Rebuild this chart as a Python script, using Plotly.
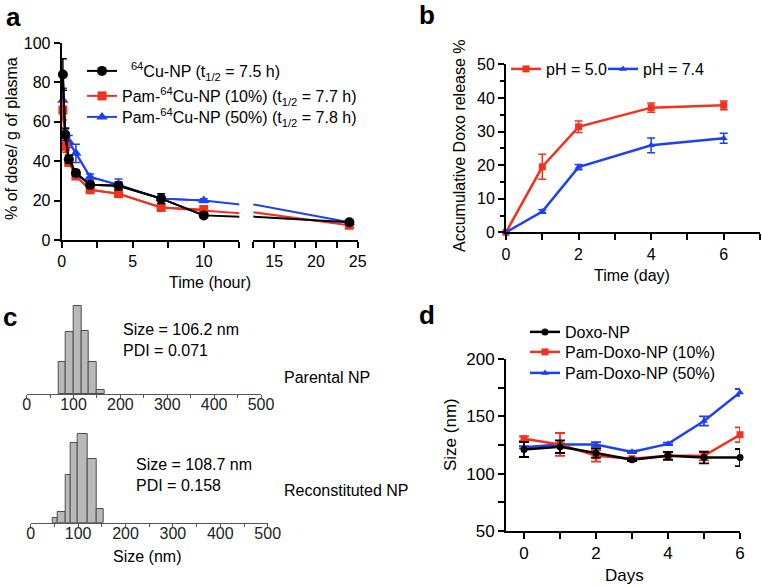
import plotly.graph_objects as go

W, H = 762, 586
def px(x): return x / W
def py(y): return 1 - y / H

RED = "#f2311f"
BLUE = "#1e40f0"
BLACK = "#000000"
FONT = "Liberation Sans, Arial, sans-serif"

# ---------------- Panel a: plasma clearance ----------------
t_a = [0.083, 0.25, 0.5, 1, 2, 4, 7, 10, 24]
cu_np = [84, 53.5, 41, 34, 28, 27.5, 21, 12.5, 9]
cu_np_err = [8, 3, 2, 1.5, 1.5, 2, 2.5, 1, 1]
pam10_cu = [66, 47.5, 39.5, 32.5, 25.5, 23.5, 16.5, 15.5, 7.5]
pam10_cu_err = [5, 3, 2, 1.5, 1.5, 1.5, 1, 1, 1]
pam50_cu = [71, 53, 50, 44, 32, 28, 21, 20, 9]
pam50_cu_err = [6, 4, 3, 4.6, 1.5, 3, 1, 1, 1]
names_a = ["&nbsp;&nbsp;<sup>64</sup>Cu-NP (t<sub>1/2</sub> = 7.5 h)",
           "Pam-<sup>64</sup>Cu-NP (10%) (t<sub>1/2</sub> = 7.7 h)",
           "Pam-<sup>64</sup>Cu-NP (50%) (t<sub>1/2</sub> = 7.8 h)"]

# ---------------- Panel b: doxo release ----------------
t_b = [0, 1, 2, 4, 6]
ph50 = [0, 19.5, 31.4, 37.1, 37.8]
ph50_err = [0, 3.7, 1.7, 1.4, 1.3]
ph74 = [0, 6.2, 19.4, 25.9, 28.0]
ph74_err = [0, 0.5, 0.8, 2.2, 1.5]
names_b = ["pH = 5.0", "pH = 7.4"]

# ---------------- Panel c: size distributions ----------------
parental_edges = [68, 84, 101, 117, 133, 150, 167]
parental_int = [10.9, 21.0, 29.8, 21.3, 10.9, 1.3]
recon_edges = [46, 58, 74, 84, 100, 120, 139, 155]
recon_int = [1.7, 3.5, 16.1, 26.8, 29.9, 21.5, 4.8]

# ---------------- Panel d: size stability ----------------
days = [0, 1, 2, 3, 4, 5, 6]
doxo_np = [121, 123.5, 118, 112, 115.5, 114, 114]
doxo_np_err = [6.5, 5.5, 4, 1, 3.5, 5, 7.5]
pam10_doxo = [130.5, 125.5, 115.5, 113, 115.5, 115.5, 134]
pam10_doxo_err = [2, 10, 5, 1, 3, 4, 6.5]
pam50_doxo = [123, 125.5, 125.5, 119, 126, 146, 171]
pam50_doxo_err = [1, 1, 2, 1, 1, 4, 3]
names_d = ["Doxo-NP", "Pam-Doxo-NP (10%)", "Pam-Doxo-NP (50%)"]

fig = go.Figure()

# ----- panel a traces (draw blue, red, black so black on top)
series_a = [
    (pam50_cu, pam50_cu_err, BLUE, "triangle-up", 10, names_a[2], "legend3"),
    (pam10_cu, pam10_cu_err, RED, "square", 9, names_a[1], "legend2"),
    (cu_np, cu_np_err, BLACK, "circle", 10, names_a[0], "legend"),
]
for ys, es, col, sym, ms, nm, lg in series_a:
    left_x = [t for t in t_a if t <= 12.5]
    left_y = [y for t, y in zip(t_a, ys) if t <= 12.5]
    left_e = [e for t, e in zip(t_a, es) if t <= 12.5]
    right_x = [t for t in t_a if t > 12.5]
    right_y = [y for t, y in zip(t_a, ys) if t > 12.5]
    right_e = [e for t, e in zip(t_a, es) if t > 12.5]
    fig.add_trace(go.Scatter(x=t_a, y=ys, mode="lines", line=dict(color=col, width=2),
                             xaxis="x", yaxis="y", showlegend=False, hoverinfo="skip"))
    fig.add_trace(go.Scatter(x=t_a, y=ys, mode="lines", line=dict(color=col, width=2),
                             xaxis="x2", yaxis="y", showlegend=False, hoverinfo="skip"))
    fig.add_trace(go.Scatter(x=left_x, y=left_y, mode="lines+markers", name=nm,
                             line=dict(color=col, width=2),
                             marker=dict(symbol=sym, size=ms, color=col),
                             error_y=dict(type="data", array=left_e, color=col, thickness=1.5, width=4),
                             cliponaxis=False, xaxis="x", yaxis="y", legend=lg))
    fig.add_trace(go.Scatter(x=right_x, y=right_y, mode="markers",
                             marker=dict(symbol=sym, size=ms, color=col),
                             error_y=dict(type="data", array=right_e, color=col, thickness=1.5, width=4),
                             cliponaxis=False, xaxis="x2", yaxis="y", showlegend=False))

# ----- panel b traces
for ys, es, col, sym, nm, lg in [(ph50, ph50_err, RED, "square", names_b[0], "legend4"),
                                 (ph74, ph74_err, BLUE, "triangle-up", names_b[1], "legend5")]:
    fig.add_trace(go.Scatter(x=t_b, y=ys, mode="lines+markers", name=nm,
                             line=dict(color=col, width=2.5),
                             marker=dict(symbol=sym, size=7, color=col),
                             error_y=dict(type="data", array=es, color=col, thickness=1.5, width=4),
                             cliponaxis=False, xaxis="x3", yaxis="y3", legend=lg))

# ----- panel c traces
def centers(edges):
    return [(a + b) / 2 for a, b in zip(edges[:-1], edges[1:])]
def widths(edges):
    return [b - a for a, b in zip(edges[:-1], edges[1:])]

fig.add_trace(go.Bar(x=centers(parental_edges), y=parental_int, width=widths(parental_edges),
                     marker=dict(color="#b9b9b9", line=dict(color="#4d4d4d", width=1)),
                     xaxis="x4", yaxis="y4", showlegend=False))
fig.add_trace(go.Bar(x=centers(recon_edges), y=recon_int, width=widths(recon_edges),
                     marker=dict(color="#b9b9b9", line=dict(color="#4d4d4d", width=1)),
                     xaxis="x5", yaxis="y5", showlegend=False))

# ----- panel d traces (blue, red, black)
for ys, es, col, sym, nm, lg in [(pam50_doxo, pam50_doxo_err, BLUE, "triangle-up", names_d[2], "legend8"),
                                 (pam10_doxo, pam10_doxo_err, RED, "square", names_d[1], "legend7"),
                                 (doxo_np, doxo_np_err, BLACK, "circle", names_d[0], "legend6")]:
    fig.add_trace(go.Scatter(x=days, y=ys, mode="lines+markers", name=nm,
                             line=dict(color=col, width=2.5),
                             marker=dict(symbol=sym, size=7, color=col),
                             error_y=dict(type="data", array=es, color=col, thickness=1.8, width=5),
                             cliponaxis=False, xaxis="x6", yaxis="y6", legend=lg))

tickfont = dict(family=FONT, size=16, color="black")
ax_common = dict(showline=True, linecolor="black", linewidth=2, ticks="outside", tickwidth=2,
                 ticklen=6, tickcolor="black", showgrid=False, zeroline=False, tickfont=tickfont)
ax_d = dict(ax_common, tickfont=dict(family=FONT, size=17, color="black"))
c_axis = dict(showline=True, linecolor="#555555", linewidth=1, ticks="outside", ticklen=3,
              tickcolor="#555555", showgrid=False, zeroline=False, ticklabelstandoff=-7,
              minor=dict(dtick=50, ticks="outside", ticklen=3, tickcolor="#555555"),
              tickfont=dict(family=FONT, size=16, color="#222222"))

layout = dict(
    width=W, height=H, margin=dict(l=0, r=0, t=0, b=0, autoexpand=False),
    paper_bgcolor="white", plot_bgcolor="white",
    font=dict(family=FONT, size=16, color="black"),
    bargap=0,
    xaxis=dict(domain=[px(61.7), px(239.3)], range=[0, 12.5], anchor="y", tick0=0, dtick=5,
               minor=dict(dtick=2.5, ticks="outside", ticklen=6, tickwidth=2, tickcolor="black"), **ax_common),
    xaxis2=dict(domain=[px(253.3), px(357.7)], range=[12.5, 25], anchor="y", tick0=0, dtick=5,
                minor=dict(dtick=2.5, ticks="outside", ticklen=6, tickwidth=2, tickcolor="black"), **ax_common),
    yaxis=dict(domain=[py(240), py(43)], range=[0, 100], anchor="x", dtick=20, **ax_common),
    xaxis3=dict(domain=[px(506), px(760)], range=[0, 7], anchor="y3", tick0=0, dtick=2,
                minor=dict(dtick=1, ticks="outside", ticklen=6, tickwidth=2, tickcolor="black"), **ax_common),
    yaxis3=dict(domain=[py(232.3), py(64.3)], range=[0, 50], anchor="x3", dtick=10,
                minor=dict(dtick=5, ticks="outside", ticklen=4, tickwidth=2, tickcolor="black"), **ax_common),
    xaxis4=dict(domain=[px(26.7), px(261)], range=[0, 500], anchor="y4", dtick=100, **c_axis),
    yaxis4=dict(domain=[py(394), py(300)], range=[0, 32], anchor="x4", visible=False),
    xaxis5=dict(domain=[px(30.7), px(267.7)], range=[0, 500], anchor="y5", dtick=100, **c_axis),
    yaxis5=dict(domain=[py(522.7), py(428)], range=[0, 32], anchor="x5", visible=False),
    xaxis6=dict(domain=[px(506), px(740)], range=[-0.5, 6], anchor="y6", tick0=0, dtick=2,
                minor=dict(dtick=1, ticks="outside", ticklen=6, tickwidth=2, tickcolor="black"), **ax_d),
    yaxis6=dict(domain=[py(530.7), py(359.3)], range=[50, 200], anchor="x6", dtick=50,
                minor=dict(dtick=25, ticks="outside", ticklen=6, tickwidth=2, tickcolor="black"), **ax_d),
)

def leg(x, y):
    return dict(x=px(x), y=py(y), xanchor="left", yanchor="middle", bgcolor="rgba(0,0,0,0)",
                borderwidth=0, font=dict(family=FONT, size=16, color="black"), itemwidth=30,
                orientation="v", tracegroupgap=0)

layout.update(
    legend=leg(82, 71), legend2=leg(82, 96), legend3=leg(82, 117),
    legend4=leg(506, 69), legend5=leg(603, 69),
    legend6=leg(525, 332), legend7=leg(525, 352), legend8=leg(525, 373),
)
fig.update_layout(**layout)

annots = [
    dict(text="<b>a</b>", x=px(13), y=py(17)),
    dict(text="<b>b</b>", x=px(427), y=py(15)),
    dict(text="<b>c</b>", x=px(10), y=py(317)),
    dict(text="<b>d</b>", x=px(427), y=py(315)),
]
annots = [dict(a, font=dict(family=FONT, size=26, color="black")) for a in annots]
texts = [
    dict(text="% of dose/ g of plasma", x=px(11), y=py(139), textangle=-90),
    dict(text="Time (hour)", x=px(210), y=py(282)),
    dict(text="Accumulative Doxo release %", x=px(460), y=py(146), textangle=-90),
    dict(text="Time (day)", x=px(632), y=py(275)),
    dict(text="Size = 106.2 nm<br>PDI = 0.071", x=px(121), y=py(340), xanchor="left", align="left"),
    dict(text="Parental NP", x=px(282), y=py(377), xanchor="left"),
    dict(text="Size = 108.7 nm<br>PDI = 0.158", x=px(134), y=py(475), xanchor="left", align="left"),
    dict(text="Reconstituted NP", x=px(282), y=py(490), xanchor="left"),
    dict(text="Size (nm)", x=px(147), y=py(556)),
    dict(text="Size (nm)", x=px(450), y=py(434), textangle=-90,
         font=dict(family=FONT, size=17, color="black")),
    dict(text="Days", x=px(624), y=py(575), font=dict(family=FONT, size=17, color="black")),
]
for t in texts:
    t.setdefault("font", dict(family=FONT, size=16, color="black"))
annots += texts
for a in annots:
    a.update(xref="paper", yref="paper", showarrow=False)
    a.setdefault("xanchor", "center")
    a.setdefault("yanchor", "middle")
fig.update_layout(annotations=annots)

fig.write_html("out.html", config={"displayModeBar": False},
               post_script="document.body.style.margin='0px';document.body.style.padding='0px';")
